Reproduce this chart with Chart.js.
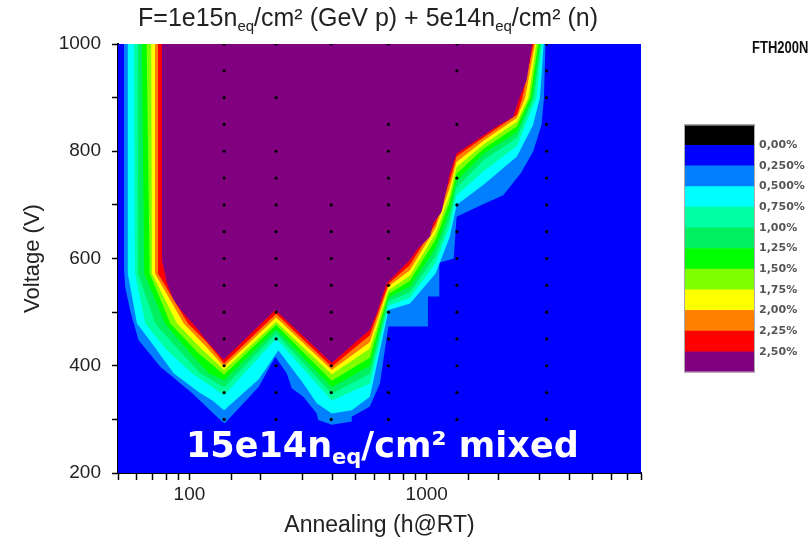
<!DOCTYPE html>
<html>
<head>
<meta charset="utf-8">
<script src="https://cdn.jsdelivr.net/npm/chart.js"></script>
<style>
  body { margin: 0; width: 809px; height: 545px; overflow: hidden; background: #fff; font-family: 'Liberation Sans', Arial, sans-serif; }
  .wrap { position: relative; width: 809px; height: 545px; }
  #contour { position: absolute; left: 0; top: 0; }
  #scaleBar { position: absolute; left: 684px; top: 122px; }
  .title { position: absolute; left: 0; width: 736px; top: 3px; text-align: center; font-size: 25px; color: #222; white-space: nowrap; }
  .tag { position: absolute; left: 752px; top: 37px; font-weight: bold; font-size: 13px; color: #111; white-space: nowrap; transform: scaleY(1.3); transform-origin: left top; }
  .mixed { position: absolute; left: 186px; top: 428px; font-family: 'DejaVu Sans', sans-serif; font-weight: bold; font-size: 35px; color: #fff; white-space: nowrap; line-height: 1; }
  sub { font-size: 0.6em; vertical-align: -0.35em; line-height: 0; }
</style>
</head>
<body>
<div class="wrap">
  <canvas id="contour" width="809" height="545"></canvas>
  <canvas id="scaleBar" width="125" height="253"></canvas>
  <div class="title">F=1e15n<sub>eq</sub>/cm² (GeV p) + 5e14n<sub>eq</sub>/cm² (n)</div>
  <div class="tag">FTH200N</div>
  <div class="mixed">15e14n<sub>eq</sub>/cm² mixed</div>
</div>

<script>
// axis ranges and labels
const xMin = 50, xMax = 8000;
const yMin = 200, yMax = 1000;
const xLabels = [100, 1000];
const yLabels = [200, 400, 600, 800, 1000];

// contour boundaries [annealing h, voltage V]
// each one is the lower edge of the region above that level
const lvl025 = [[53,1000],[53,580],[53.6,547],[56.4,501],[61,448],[75.4,398],[102.5,349],[137,296],[141,293],[196,361],[230,417],[257,386],[270,358],[302,342],[344,311],[349,299],[398,290],[483,296],[483,305],[576,324],[635,367],[689,473],[1012,473],[1012,529],[1130,529],[1130,592],[1300,600],[1336,678],[1700,700],[2100,718],[2500,760],[2812,800],[3050,850],[3120,900],[3166,1000]];
const lvl050 = [[55,1000],[55,572],[60.1,479],[70,440],[85.8,386],[110,350],[125,335],[140,317],[196,375],[237,429],[302,367],[344,330],[398,311],[483,317],[576,342],[635,429],[690,504],[850,516],[1090,572],[1250,640],[1336,700],[1740,738],[2400,790],[2800,848],[3000,900],[3110,1000]];
const lvl075 = [[58.4,1000],[59,572],[65.2,479],[80,430],[102.5,386],[140,345],[232,451],[398,335],[576,367],[690,512],[850,527],[1090,591],[1250,660],[1336,718],[1740,763],[2400,810],[2900,900],[3070,1000]];
const lvl100 = [[60.7,1000],[60.7,572],[71.8,479],[90,430],[111,386],[140,360],[232,460],[398,348],[576,385],[690,520],[850,537],[1090,605],[1250,675],[1336,732],[1740,784],[2400,825],[2830,900],[3030,1000]];
const lvl125 = [[63,1000],[64.5,572],[78.9,479],[100,425],[120.5,386],[140,373],[232,468],[398,360],[576,400],[690,527],[850,548],[1090,620],[1250,690],[1336,745],[1740,796],[2400,836],[2780,900],[2990,1000]];
const lvl150 = [[66,1000],[68,572],[83.1,479],[108,425],[140,383],[232,476],[398,372],[576,415],[690,534],[850,558],[1090,635],[1250,705],[1336,758],[1740,805],[2400,846],[2730,900],[2950,1000]];
const lvl175 = [[69,1000],[69.5,572],[88.7,479],[112,432],[140,392],[232,482],[398,384],[576,432],[690,541],[850,568],[1090,647],[1250,718],[1336,770],[1740,813],[2400,855],[2680,900],[2900,1000]];
const lvl200 = [[71.6,1000],[71.6,572],[94.6,479],[116,438],[140,398],[232,490],[398,392],[576,444],[690,548],[850,578],[1090,657],[1250,732],[1336,780],[1740,820],[2400,862],[2600,900],[2860,1000]];
const lvl225 = [[73.7,1000],[73.7,572],[98.6,479],[119,443],[140,404],[232,497],[398,398],[576,457],[690,553],[850,588],[1090,665],[1250,745],[1336,790],[1740,826],[2400,868],[2530,900],[2820,1000]];
const lvl250 = [[76.6,1000],[76.6,597],[80.4,554],[85.8,523],[93,501],[105.9,473],[120.5,442],[139.5,411],[230,504],[398,405],[576,467],[616,498],[678,554],[850,597],[907,616],[1032,641],[1066,666],[1156,687],[1253,759],[1338,796],[1972,846],[2317,864],[2460,900],[2638,933],[2780,1000]];

// measured points: annealing columns and the voltages at each
const measAnneal = [140, 232, 396, 690, 1340, 3200];
const measVolts = [
  [300,350,400,450,500,550,600,650,700,750,800,850,900,950,1000],
  [300,350,400,450,500,550,600,650,700,750,800,900,1000],
  [300,350,400,450,500,550,600,650,700,1000],
  [300,350,400,450,500,550,600,650,700,750,800,850,1000],
  [300,350,400,450,500,550,600,650,700,750,850,950,1000],
  [300,350,400,450,500,550,600,650,700,750,800,850,900,950,1000]
];

// colour scale, top to bottom as in the key
const scaleColors = ['#000000','#0000FF','#0080FF','#00FFFF','#00FFA0','#00F060','#00FF00','#80FF00','#FFFF00','#FF8000','#FF0000','#800080'];
const scaleLabels = ['0,00%','0,250%','0,500%','0,750%','1,00%','1,25%','1,50%','1,75%','2,00%','2,25%','2,50%'];

Chart.defaults.font.family = "'Liberation Sans', Arial, sans-serif";

const levelSets = [lvl025, lvl050, lvl075, lvl100, lvl125, lvl150, lvl175, lvl200, lvl225, lvl250];
const datasets = levelSets.map((pts, i) => ({
  data: pts.map(([a, v]) => ({ x: a, y: v })),
  fill: 'shape',
  backgroundColor: scaleColors[i + 2],
  borderWidth: 0,
  pointRadius: 0,
  tension: 0,
  order: 20 - i
}));

const dots = [];
measAnneal.forEach((a, i) => measVolts[i].forEach(v => dots.push({ x: a, y: v })));
datasets.push({
  data: dots,
  showLine: false,
  pointRadius: 1.6,
  pointBackgroundColor: '#000',
  pointBorderWidth: 0,
  order: 0
});

// the region below the lowest level fills the whole plot
const plotBg = {
  id: 'plotBg',
  beforeDatasetsDraw(chart) {
    const { ctx, chartArea: { left, top, width, height } } = chart;
    ctx.save();
    ctx.fillStyle = scaleColors[1];
    ctx.fillRect(left, top, width, height);
    ctx.restore();
  }
};

new Chart(document.getElementById('contour'), {
  type: 'line',
  data: { datasets },
  options: {
    responsive: false,
    animation: false,
    layout: { padding: { top: 44, right: 168, left: 0, bottom: 0 } },
    plugins: { legend: { display: false }, tooltip: { enabled: false } },
    scales: {
      x: {
        type: 'logarithmic',
        min: xMin,
        max: xMax,
        title: { display: true, text: 'Annealing (h@RT)', color: '#222', font: { size: 23 }, padding: { top: 0, bottom: 6 } },
        ticks: {
          autoSkip: false, maxRotation: 0, padding: 3, color: '#222', font: { size: 19 },
          callback: v => xLabels.includes(v) ? String(v) : ''
        },
        grid: { drawOnChartArea: false, tickLength: 7, tickColor: '#000', tickWidth: 1.5 },
        border: { color: '#000', width: 2 },
        afterFit: s => { s.height = 72; }
      },
      y: {
        min: yMin,
        max: yMax,
        title: { display: true, text: 'Voltage (V)', color: '#222', font: { size: 22 }, padding: { top: 20, bottom: 0 } },
        ticks: {
          stepSize: 100, autoSkip: false, padding: 11, color: '#222', font: { size: 19 },
          callback: v => yLabels.includes(v) ? String(v) : ''
        },
        grid: { drawOnChartArea: false, tickLength: 6, tickColor: '#000', tickWidth: 1.5 },
        border: { color: '#000', width: 2 },
        afterFit: s => { s.width = 118; }
      }
    }
  },
  plugins: [plotBg]
});

// colour key
const barOutline = {
  id: 'barOutline',
  afterDatasetsDraw(chart) {
    const { ctx, chartArea: { left, top, width, height } } = chart;
    ctx.save();
    ctx.strokeStyle = '#aaa';
    ctx.lineWidth = 1;
    ctx.strokeRect(left + 0.5, top + 0.5, width - 1, height - 1);
    ctx.restore();
  }
};

new Chart(document.getElementById('scaleBar'), {
  type: 'bar',
  data: {
    labels: [''],
    datasets: scaleColors.slice().reverse().map(c => ({
      data: [1], backgroundColor: c, borderWidth: 0, barPercentage: 1, categoryPercentage: 1
    }))
  },
  options: {
    responsive: false,
    animation: false,
    layout: { padding: 0 },
    plugins: { legend: { display: false }, tooltip: { enabled: false } },
    scales: {
      x: { display: false, stacked: true },
      y: {
        stacked: true, position: 'right', min: 0, max: 12,
        grid: { display: false }, border: { display: false },
        ticks: {
          stepSize: 1, autoSkip: false, padding: -4, color: '#555',
          font: { family: "'DejaVu Sans'", weight: 'bold', size: 11 },
          callback: v => scaleLabels[11 - v] ?? ''
        },
        afterFit: s => { s.width = 54; }
      }
    }
  },
  plugins: [barOutline]
});
</script>
</body>
</html>
